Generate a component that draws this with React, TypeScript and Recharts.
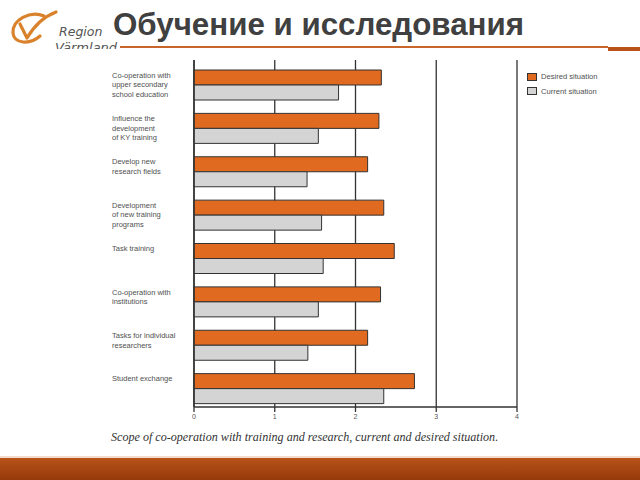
import React from 'react';
import { BarChart, Bar, XAxis, YAxis, CartesianGrid, Legend } from 'recharts';

const categories: string[] = [
  'Co-operation with\nupper secondary\nschool education',
  'Influence the\ndevelopment\nof KY training',
  'Develop new\nresearch fields',
  'Development\nof new training\nprograms',
  'Task training',
  'Co-operation with\ninstitutions',
  'Tasks for individual\nresearchers',
  'Student exchange',
];

const desiredSituation: number[] = [2.32, 2.29, 2.15, 2.35, 2.48, 2.31, 2.15, 2.73];
const currentSituation: number[] = [1.79, 1.54, 1.4, 1.58, 1.6, 1.54, 1.41, 2.35];

const xTicks: number[] = [0, 1, 2, 3, 4];

const seriesNames = { desired: 'Desired situation', current: 'Current situation' };
const legendOrder: string[] = [seriesNames.desired, seriesNames.current];

const title = 'Обучение и исследования';
const caption = 'Scope of co-operation with training and research, current and desired situation.';

const data = categories.map((c, i) => ({
  category: c,
  desired: desiredSituation[i],
  current: currentSituation[i],
}));

const ORANGE = '#E06A1F';
const GREY = '#D4D4D4';
const EDGE = '#333333';

const CategoryTick = (props: any) => {
  const { y, payload } = props;
  const lines = String(payload.value).split('\n');
  return (
    <g>
      {lines.map((ln, i) => (
        <text
          key={i}
          x={112}
          y={y - 6.5 + i * 9.6}
          textAnchor="start"
          dominantBaseline="central"
          fontSize={7.5}
          fontFamily="'Liberation Sans', Arial, sans-serif"
          fill="#505050"
        >
          {ln}
        </text>
      ))}
    </g>
  );
};

const LegendContent = (props: any) => {
  const items = (props.payload || [])
    .filter((p: any) => p.type !== 'none')
    .slice()
    .sort((a: any, b: any) => legendOrder.indexOf(a.value) - legendOrder.indexOf(b.value));
  return (
    <div style={{ fontFamily: "'Liberation Sans', Arial, sans-serif", fontSize: 7.6, color: '#505050' }}>
      {items.map((it: any, i: number) => (
        <div key={i} style={{ display: 'flex', alignItems: 'center', height: 14.5 }}>
          <div
            style={{
              width: 9.5,
              height: 8,
              background: it.color,
              border: `1px solid ${EDGE}`,
              marginRight: 4.5,
              boxSizing: 'border-box',
            }}
          />
          <span>{it.value}</span>
        </div>
      ))}
    </div>
  );
};

export default function App() {
  return (
    <div style={{ position: 'relative', width: 640, height: 480, background: '#fff', overflow: 'hidden' }}>
      <style>{`html,body{margin:0;padding:0;background:#fff;}`}</style>
      {/* Logo */}
      <svg width={120} height={56} style={{ position: 'absolute', left: 0, top: 0 }}>
        <path
          d="M 44 16 C 30 10, 12 20, 13 33 C 14 44, 30 45, 40 36"
          fill="none"
          stroke="#D9822B"
          strokeWidth={3.2}
          strokeLinecap="round"
        />
        <path
          d="M 20 24 L 27 38 C 34 26, 43 17, 56 12"
          fill="none"
          stroke="#D9822B"
          strokeWidth={3.2}
          strokeLinecap="round"
          strokeLinejoin="round"
        />
        <text x={59} y={36} fontSize={12.5} fontStyle="italic" fontFamily="'DejaVu Sans', sans-serif" fill="#555">
          Region
        </text>
        <clipPath id="vclip">
          <rect x={0} y={0} width={120} height={49} />
        </clipPath>
        <text
          x={55}
          y={52}
          fontSize={13}
          fontStyle="italic"
          fontFamily="'DejaVu Sans', sans-serif"
          fill="#555"
          clipPath="url(#vclip)"
        >
          Värmland
        </text>
      </svg>

      {/* Title */}
      <div
        style={{
          position: 'absolute',
          left: 113,
          top: 7,
          fontFamily: "'Liberation Sans', Arial, sans-serif",
          fontWeight: 'bold',
          fontSize: 31.3,
          color: '#404040',
          whiteSpace: 'nowrap',
          lineHeight: '36px',
        }}
      >
        {title}
      </div>

      {/* Header rule */}
      <div style={{ position: 'absolute', left: 120, top: 45.5, width: 488, height: 2, background: '#C8652A' }} />
      <div style={{ position: 'absolute', left: 608, top: 46.5, width: 32, height: 4.5, background: '#B8541A' }} />

      <div style={{ position: 'absolute', left: 0, top: 0 }}>
        <BarChart
          width={640}
          height={480}
          data={data}
          layout="vertical"
          margin={{ top: 60, right: 123, bottom: 43, left: 0 }}
          barGap={0}
        >
          <CartesianGrid vertical horizontal={false} stroke={EDGE} strokeWidth={1.3} />
          <XAxis
            type="number"
            domain={[0, 4]}
            ticks={xTicks}
            height={30}
            axisLine={{ stroke: EDGE, strokeWidth: 1.5 }}
            tickLine={{ stroke: EDGE, strokeWidth: 1.3 }}
            tickSize={5}
            tick={{ fontSize: 7, fill: '#555', fontFamily: "'Liberation Sans', Arial, sans-serif" }}
            interval={0}
          />
          <XAxis
            xAxisId="top"
            orientation="top"
            type="number"
            domain={[0, 4]}
            height={0}
            tick={false}
            tickLine={false}
            axisLine={{ stroke: EDGE, strokeWidth: 1.3 }}
          />
          <YAxis
            type="category"
            dataKey="category"
            width={194}
            axisLine={{ stroke: EDGE, strokeWidth: 1.5 }}
            tickLine={false}
            tick={<CategoryTick />}
            interval={0}
          />
          <Legend
            layout="vertical"
            align="center"
            verticalAlign="middle"
            content={<LegendContent />}
            wrapperStyle={{ left: 527, top: 69.5, width: 110 }}
          />
          <Bar dataKey="spacer" barSize={7} fill="none" legendType="none" isAnimationActive={false} />
          <Bar
            dataKey="desired"
            name={seriesNames.desired}
            barSize={15}
            fill={ORANGE}
            stroke={EDGE}
            strokeWidth={1}
            isAnimationActive={false}
          />
          <Bar
            dataKey="current"
            name={seriesNames.current}
            barSize={15}
            fill={GREY}
            stroke={EDGE}
            strokeWidth={1}
            isAnimationActive={false}
          />
        </BarChart>
      </div>

      {/* Caption */}
      <div
        style={{
          position: 'absolute',
          left: 111,
          top: 429,
          fontFamily: "'Liberation Serif', 'Times New Roman', serif",
          fontStyle: 'italic',
          fontSize: 12.1,
          color: '#333',
          whiteSpace: 'nowrap',
          lineHeight: '16px',
        }}
      >
        {caption}
      </div>

      {/* Footer bar */}
      <div style={{ position: 'absolute', left: 0, top: 456, width: 640, height: 2, background: '#F3DCCB' }} />
      <div
        style={{
          position: 'absolute',
          left: 0,
          top: 458,
          width: 640,
          height: 22,
          background: 'linear-gradient(#B7531A, #96390A)',
        }}
      />
    </div>
  );
}
